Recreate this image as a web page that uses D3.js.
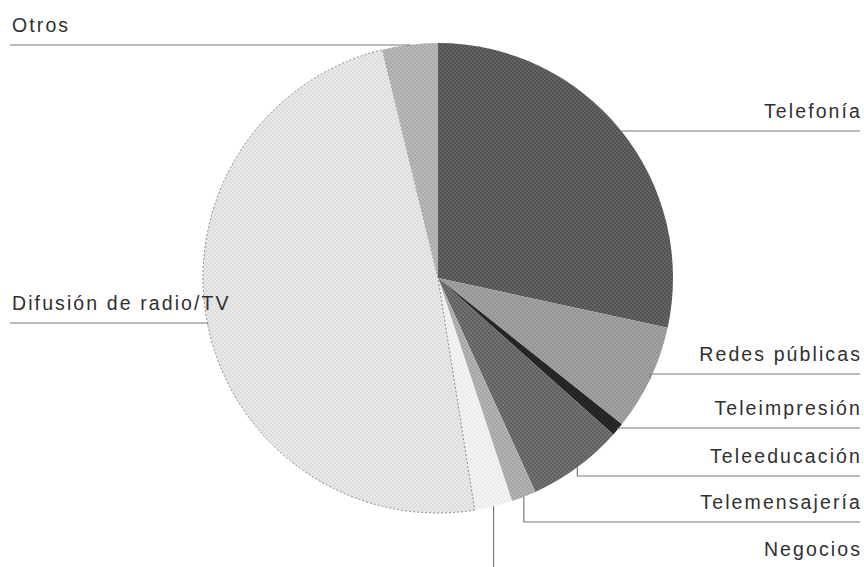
<!DOCTYPE html>
<html>
<head>
<meta charset="utf-8">
<script src="https://cdn.jsdelivr.net/npm/d3@7"></script>
<style>
  html, body { margin: 0; padding: 0; background: #fff; }
  svg { display: block; }
  text { font-family: "Liberation Sans", Arial, sans-serif; }
</style>
</head>
<body>
<script>
// ---- data ----
const categories = ["Telefonía", "Redes públicas", "Teleimpresión", "Teleeducación",
                    "Telemensajería", "Negocios", "Difusión de radio/TV", "Otros"];
const values = [28.4, 7.3, 0.9, 6.6, 1.7, 2.6, 48.7, 3.8];

// ---- layout / style (not data) ----
const W = 864, H = 567;
const cx = 438, cy = 278, R = 235;
const fills = ["#646464", "#a3a3a3", "#2a2a2a", "#727272", "#b4b4b4", "#f3f3f3", "#e9e9e9", "#b9b9b9"];
const dotColors = ["#333", "#7a7a7a", "#111", "#404040", "#8a8a8a", "#e0e0e0", "#c8c8c8", "#909090"];
const labelLineY = [131, 374, 428, 476, 522, 569, 323, 45];
const side = ["r", "r", "r", "r", "r", "r", "l", "l"];
const rightX = 860, leftX = 10;

const svg = d3.select("body").append("svg").attr("width", W).attr("height", H);
const defs = svg.append("defs");
fills.forEach((c, i) => {
  const p = defs.append("pattern").attr("id", "pat" + i)
    .attr("width", 4).attr("height", 4).attr("patternUnits", "userSpaceOnUse");
  p.append("rect").attr("width", 4).attr("height", 4).attr("fill", c);
  p.append("circle").attr("cx", 1).attr("cy", 1).attr("r", 0.9).attr("fill", dotColors[i]).attr("opacity", 0.55);
  p.append("circle").attr("cx", 3).attr("cy", 3).attr("r", 0.9).attr("fill", dotColors[i]).attr("opacity", 0.55);
});

const pie = d3.pie().sort(null).value(d => d.v).startAngle(0).endAngle(2 * Math.PI);
const data = categories.map((c, i) => ({ c, v: values[i], i }));
const arcs = pie(data);
const arc = d3.arc().innerRadius(0).outerRadius(R);

const g = svg.append("g").attr("transform", `translate(${cx},${cy})`);
g.selectAll("path.slice").data(arcs).enter().append("path")
  .attr("class", "slice")
  .attr("d", arc)
  .attr("fill", d => `url(#pat${d.data.i})`)
  .attr("stroke", d => d.data.i === 6 ? "#8a8a8a" : "none")
  .attr("stroke-width", 1)
  .attr("stroke-dasharray", d => d.data.i === 6 ? "2,2" : null);

// leader lines + labels
const lines = svg.append("g");
arcs.forEach(d => {
  const i = d.data.i;
  const mid = (d.startAngle + d.endAngle) / 2;
  const px = cx + R * Math.sin(mid);
  const py = cy - R * Math.cos(mid);
  const ly = labelLineY[i];
  const endX = side[i] === "r" ? rightX : leftX;
  lines.append("path")
    .attr("d", `M${px},${py} L${px},${ly} L${endX},${ly}`)
    .attr("fill", "none")
    .attr("stroke", "#7a7a7a")
    .attr("stroke-width", 1.2);
  const t = svg.append("text")
    .attr("y", ly - 13)
    .attr("font-size", 19.5)
    .attr("letter-spacing", "2.1px")
    .attr("fill", "#303030")
    .text(d.data.c);
  if (side[i] === "r") {
    t.attr("x", rightX + 2).attr("text-anchor", "end");
  } else {
    t.attr("x", leftX + 2).attr("text-anchor", "start");
  }
});
</script>
</body>
</html>
